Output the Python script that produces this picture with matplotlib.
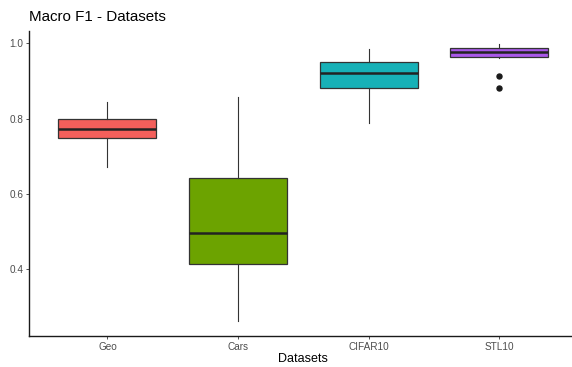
import matplotlib
matplotlib.use('Agg')
import matplotlib.pyplot as plt

plt.rcParams['font.family'] = ['Liberation Sans', 'DejaVu Sans']

# values
datasets = ['Geo', 'Cars', 'CIFAR10', 'STL10']
whisker_low = [0.670, 0.261, 0.789, 0.960]
q1 = [0.748, 0.414, 0.880, 0.964]
median = [0.772, 0.495, 0.922, 0.976]
q3 = [0.800, 0.641, 0.951, 0.988]
whisker_high = [0.845, 0.857, 0.984, 0.997]
outliers = [[], [], [], [0.914, 0.882]]
fills = ['#F35F5B', '#6CA300', '#17B1B7', '#A958E8']

stats = []
for i, name in enumerate(datasets):
    stats.append({
        'label': name,
        'whislo': whisker_low[i], 'q1': q1[i], 'med': median[i],
        'q3': q3[i], 'whishi': whisker_high[i], 'fliers': outliers[i],
    })

fig = plt.figure(figsize=(5.72, 3.67), dpi=100)
ax = fig.add_axes([29 / 572, (367 - 336) / 367, 548.8 / 572, 305 / 367])

bp = ax.bxp(stats, positions=[1, 2, 3, 4], widths=0.75, patch_artist=True,
            showcaps=False,
            boxprops=dict(edgecolor='#333333', linewidth=0.9),
            whiskerprops=dict(color='#333333', linewidth=0.8),
            medianprops=dict(color='#222222', linewidth=1.8),
            flierprops=dict(marker='o', markerfacecolor='#1a1a1a',
                            markeredgecolor='#1a1a1a', markersize=3.6))
for patch, c in zip(bp['boxes'], fills):
    patch.set_facecolor(c)

ax.set_xlim(0.4, 4.6)
ax.set_ylim(0.222, 1.0327)
ax.set_yticks([0.4, 0.6, 0.8, 1.0])
ax.set_yticklabels(['0.4', '0.6', '0.8', '1.0'])
ax.set_xticks([1, 2, 3, 4])
ax.set_xticklabels(datasets)

for side in ['top', 'right']:
    ax.spines[side].set_visible(False)
for side in ['left', 'bottom']:
    ax.spines[side].set_linewidth(1.0)
    ax.spines[side].set_color('#1a1a1a')
ax.tick_params(axis='both', length=2.5, width=0.6, color='#333333',
               labelsize=7.2, labelcolor='#4D4D4D', pad=1.5)

ax.set_xlabel('Datasets', fontsize=9, labelpad=1.2)
fig.text(29 / 572, 1 - 21 / 367, 'Macro F1 - Datasets', fontsize=10.9,
         ha='left', va='baseline')

fig.savefig('out.png', dpi=100)
